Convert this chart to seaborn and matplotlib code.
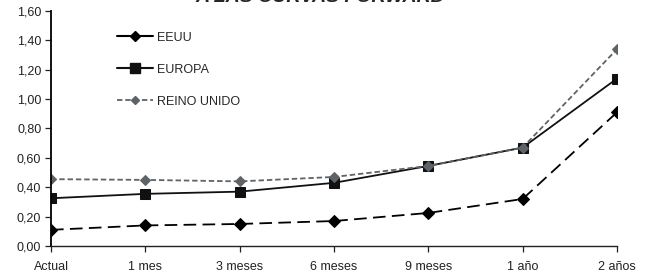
import matplotlib
matplotlib.use("Agg")
import matplotlib.pyplot as plt
from matplotlib.lines import Line2D
from matplotlib.ticker import FuncFormatter
import seaborn as sns
import pandas as pd

categories = ["Actual", "1 mes", "3 meses", "6 meses", "9 meses", "1 año", "2 años"]
eeuu = [0.11, 0.14, 0.15, 0.17, 0.225, 0.32, 0.91]
europa = [0.325, 0.355, 0.37, 0.43, 0.545, 0.67, 1.14]
reino_unido = [0.455, 0.45, 0.44, 0.47, 0.545, 0.67, 1.34]
title = "A LAS CURVAS FORWARD"

sns.set_style("white")
plt.rcParams["font.family"] = ["Liberation Sans", "DejaVu Sans"]

fig = plt.figure(figsize=(6.47, 2.79), dpi=100)
ax = fig.add_axes([0.0788, 0.1183, 0.8748, 0.8423])

xs = list(range(len(categories)))
df = pd.DataFrame({"x": xs * 3,
                   "y": eeuu + europa + reino_unido,
                   "serie": ["EEUU"] * 7 + ["EUROPA"] * 7 + ["REINO UNIDO"] * 7})

styles = {
    "EEUU": dict(color="black", marker="D", markersize=6, lw=1.3, dashes=(7, 3.5)),
    "EUROPA": dict(color="#111111", marker="s", markersize=7.5, lw=1.3, dashes=None),
    "REINO UNIDO": dict(color="#5e6368", marker="D", markersize=4.8, lw=1.3, dashes=(3, 1.6)),
}
for name in ["EEUU", "EUROPA", "REINO UNIDO"]:
    st = styles[name]
    sub = df[df["serie"] == name]
    sns.lineplot(data=sub, x="x", y="y", ax=ax, color=st["color"], lw=st["lw"],
                 marker=st["marker"], markersize=st["markersize"],
                 markeredgecolor=st["color"], legend=False)
    l = ax.lines[-1]
    if st["dashes"]:
        l.set_dashes(st["dashes"])

ax.set_xlim(0, 6)
ax.set_ylim(0, 1.6)
ax.set_yticks([0, 0.2, 0.4, 0.6, 0.8, 1.0, 1.2, 1.4, 1.6])
ax.yaxis.set_major_formatter(FuncFormatter(lambda v, p: f"{v:.2f}".replace(".", ",")))
ax.set_xticks(xs)
ax.set_xticklabels(categories)
ax.set_xlabel("")
ax.set_ylabel("")
for s in ["top", "right"]:
    ax.spines[s].set_visible(False)
ax.spines["left"].set_color("black")
ax.spines["left"].set_linewidth(1.3)
ax.spines["bottom"].set_color("#222222")
ax.spines["bottom"].set_linewidth(1.0)
ax.tick_params(axis="both", which="major", direction="out", length=4, width=0.9,
               labelsize=9, colors="#222222", bottom=True, left=True, pad=3)
ax.tick_params(axis="x", pad=7)
ax.grid(False)

handles = [
    Line2D([], [], color="black", marker="D", markersize=5, lw=1.5),
    Line2D([], [], color="#111111", marker="s", markersize=7, lw=1.5),
    Line2D([], [], color="#5e6368", marker="D", markersize=4.5, lw=1.3, dashes=(3, 1.6)),
]
ax.legend(handles, ["EEUU", "EUROPA", "REINO UNIDO"], loc="upper left",
          bbox_to_anchor=(0.097, 0.96), frameon=False, fontsize=9, labelspacing=1.6,
          handlelength=2.9, handletextpad=0.3)

fig.text(0.495, 1.04, title, ha="center", va="top", fontsize=14, fontweight="bold",
         fontstyle="italic")

fig.savefig("out.png", dpi=100)
